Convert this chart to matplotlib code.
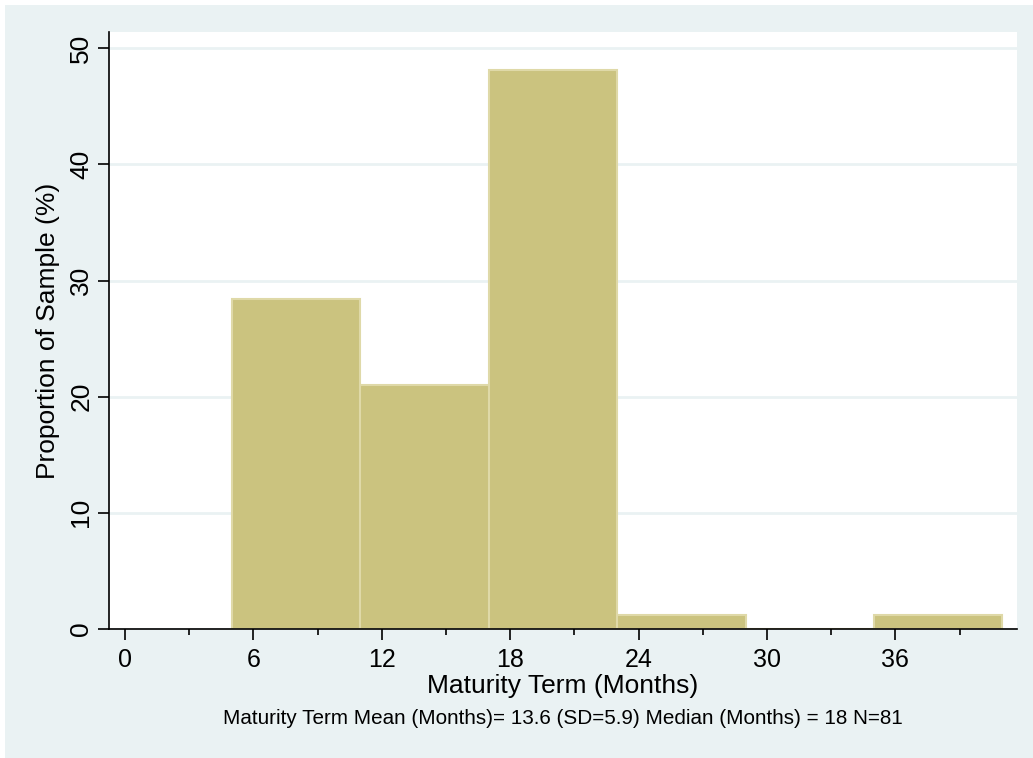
import numpy as np
import matplotlib
matplotlib.use("Agg")
import matplotlib.pyplot as plt
from matplotlib.patches import Rectangle

plt.rcParams["font.family"] = ["Liberation Sans", "DejaVu Sans"]

# Histogram bins (months) and share of the sample (%), N=81
bin_edges = [5, 11, 17, 23, 29, 35, 41]
proportions = [28.40, 20.99, 48.15, 1.23, 0.0, 1.23]
x_ticks = [0, 6, 12, 18, 24, 30, 36]
y_ticks = [0, 10, 20, 30, 40, 50]
note = "Maturity Term Mean (Months)= 13.6 (SD=5.9) Median (Months) = 18 N=81"

W, H = 1033, 758
fig = plt.figure(figsize=(W / 100, H / 100), dpi=100)
fig.patch.set_facecolor("white")
# Stata-style light blue outer region
fig.patches.append(Rectangle((5 / W, 0), 1 - 5 / W, 1 - 5 / H,
                             transform=fig.transFigure, facecolor="#EAF2F3",
                             edgecolor="none", zorder=-5))

left, right, top, bottom = 108.5, 1016.7, 32, 629
ax = fig.add_axes([left / W, 1 - bottom / H, (right - left) / W, (bottom - top) / H])
ax.set_facecolor("white")

widths = np.diff(bin_edges)
ax.bar(bin_edges[:-1], proportions, width=widths, align="edge",
       color="#CBC37F", edgecolor="#DFD9A8", linewidth=1.5, zorder=2)

ax.set_xlim(-0.77, 41.67)
ax.set_ylim(0, 51.4)

ax.set_xticks(x_ticks)
ax.set_xticks(np.arange(3, 40, 6), minor=True)
ax.set_yticks(y_ticks)
ax.set_yticklabels([str(v) for v in y_ticks], rotation=90, va="center")
ax.tick_params(axis="both", which="major", length=8, width=1.2)
ax.tick_params(axis="x", which="major", labelsize=18, pad=6)
ax.tick_params(axis="y", which="major", labelsize=19, pad=3)
ax.tick_params(axis="x", which="minor", length=4, width=1.2)

ax.yaxis.grid(True, color="#EAF2F3", linewidth=2, zorder=1)
ax.set_axisbelow(True)

for s in ["top", "right"]:
    ax.spines[s].set_visible(False)
for s in ["left", "bottom"]:
    ax.spines[s].set_linewidth(1.2)

ax.set_xlabel("Maturity Term (Months)", fontsize=19, va="center")
ax.xaxis.set_label_coords(0.5, (bottom - 686) / (bottom - top))
ax.set_ylabel("Proportion of Sample (%)", fontsize=19, va="center")
ax.yaxis.set_label_coords((48 - left) / (right - left), 0.5)

fig.text((left + right) / 2 / W, 1 - 719 / H, note, ha="center", va="center", fontsize=14.9)

fig.savefig("out.png", dpi=100)
